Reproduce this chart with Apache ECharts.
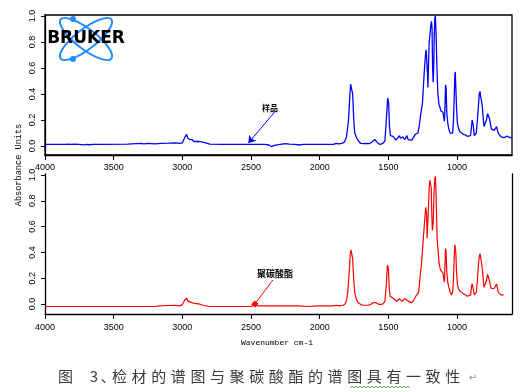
<!DOCTYPE html>
<html><head><meta charset="utf-8">
<script src="https://cdn.jsdelivr.net/npm/echarts@6/dist/echarts.min.js"></script>
<style>html,body{margin:0;padding:0;background:#fff}#c{width:525px;height:392px}</style>
</head><body><div id="c"></div>
<script>
// ---- data ----
const xTicks = [4000, 3500, 3000, 2500, 2000, 1500, 1000];
const yTicks = [0, 0.2, 0.4, 0.6, 0.8, 1.0];

// sample (blue) spectrum
const blueWn = [4000,3900,3850,3830,3810,3790,3750,3720,3700,3680,3650,3600,3400,3390,3300,3280,3250,3200,3150,3100,3050,3020,3000,2985,2970,2960,2945,2930,2915,2880,2850,2800,2700,2600,2520,2450,2400,2370,2350,2330,2300,2250,2220,2180,2150,2120,2000,1900,1880,1860,1840,1820,1805,1790,1780,1775,1768,1760,1752,1745,1730,1715,1700,1680,1660,1640,1620,1600,1590,1575,1560,1540,1525,1515,1505,1498,1492,1485,1475,1465,1455,1445,1435,1420,1412,1405,1395,1388,1380,1372,1365,1357,1345,1330,1315,1305,1295,1285,1276,1265,1252,1240,1230,1225,1220,1215,1212,1208,1203,1198,1192,1186,1182,1178,1174,1170,1166,1162,1158,1154,1150,1145,1140,1132,1125,1118,1110,1103,1097,1092,1088,1084,1080,1075,1068,1060,1050,1040,1032,1026,1020,1016,1013,1009,1004,998,990,980,970,955,940,925,912,902,895,890,884,880,875,868,860,852,845,838,833,828,822,816,810,804,798,792,786,778,772,764,757,750,740,730,720,712,706,700,692,680,668,656,645,636,628,615,600];
const blueAbs = [0.013,0.013,0.012,0.015,0.012,0.015,0.013,0.009,0.012,0.01,0.013,0.013,0.015,0.02,0.02,0.017,0.02,0.016,0.02,0.022,0.025,0.02,0.025,0.06,0.09,0.06,0.05,0.05,0.035,0.035,0.03,0.014,0.013,0.013,0.013,0.013,0.013,0.008,-0.005,0.005,0.01,0.018,0.015,0.012,0.008,0.013,0.013,0.013,0.02,0.017,0.02,0.03,0.07,0.2,0.4,0.477,0.477,0.4,0.2,0.1,0.06,0.035,0.02,0.018,0.02,0.018,0.03,0.05,0.045,0.02,0.012,0.02,0.04,0.2,0.37,0.33,0.15,0.08,0.07,0.075,0.06,0.045,0.05,0.08,0.06,0.045,0.07,0.08,0.05,0.06,0.08,0.05,0.04,0.045,0.07,0.09,0.08,0.1,0.15,0.24,0.33,0.55,0.7,0.74,0.75,0.55,0.45,0.62,0.8,0.85,0.92,0.96,0.9,0.6,0.49,0.6,0.85,0.98,1.0,0.9,0.75,0.55,0.41,0.32,0.3,0.27,0.28,0.26,0.22,0.19,0.3,0.47,0.45,0.26,0.18,0.13,0.1,0.085,0.1,0.2,0.4,0.55,0.57,0.45,0.3,0.18,0.14,0.11,0.1,0.09,0.085,0.075,0.065,0.08,0.15,0.2,0.17,0.14,0.08,0.07,0.1,0.2,0.3,0.4,0.42,0.38,0.35,0.3,0.22,0.15,0.135,0.14,0.2,0.25,0.24,0.21,0.17,0.13,0.12,0.12,0.13,0.15,0.12,0.1,0.085,0.07,0.065,0.065,0.07,0.077,0.07,0.065,0.065];

// polycarbonate reference (red) spectrum
const redWn = [4000,3200,3170,3100,3050,3020,3000,2985,2970,2958,2945,2930,2915,2880,2850,2800,2600,2500,2480,2450,2350,2300,2200,2150,2100,2000,1900,1880,1860,1830,1815,1805,1795,1785,1778,1772,1766,1760,1753,1745,1735,1720,1700,1680,1650,1630,1610,1600,1590,1575,1560,1540,1525,1515,1507,1500,1494,1487,1475,1460,1450,1440,1430,1420,1410,1400,1392,1385,1378,1370,1363,1355,1345,1330,1315,1300,1290,1280,1270,1258,1245,1235,1228,1222,1218,1214,1208,1203,1198,1193,1188,1184,1180,1174,1168,1162,1158,1154,1150,1145,1140,1132,1125,1118,1110,1103,1097,1092,1088,1084,1080,1075,1068,1060,1050,1040,1032,1026,1020,1016,1013,1009,1004,998,990,980,970,955,940,925,912,902,895,890,884,880,875,868,860,852,845,838,833,828,822,816,810,804,798,792,786,778,772,764,757,750,740,730,720,712,706,700,692,680,668,660];
const redAbs = [-0.02,-0.02,-0.015,-0.012,-0.01,-0.015,-0.005,0.025,0.045,0.02,0.018,0.01,0.005,0.0,-0.01,-0.02,-0.02,-0.02,-0.01,-0.015,-0.015,-0.015,-0.015,-0.015,-0.02,-0.015,-0.015,-0.01,-0.015,-0.01,0.0,0.03,0.1,0.25,0.38,0.42,0.43,0.35,0.2,0.09,0.04,0.01,-0.005,-0.01,-0.01,-0.005,0.01,0.018,0.01,0.0,-0.005,0.0,0.02,0.15,0.3,0.28,0.12,0.06,0.055,0.04,0.03,0.02,0.025,0.04,0.03,0.02,0.035,0.04,0.025,0.035,0.04,0.02,0.01,0.01,0.03,0.06,0.05,0.09,0.2,0.32,0.52,0.66,0.75,0.7,0.51,0.52,0.75,0.9,0.96,0.93,0.9,0.7,0.57,0.62,0.85,0.97,0.99,0.9,0.72,0.5,0.44,0.33,0.28,0.26,0.27,0.24,0.2,0.17,0.3,0.43,0.41,0.25,0.17,0.13,0.09,0.07,0.09,0.2,0.38,0.46,0.465,0.4,0.25,0.16,0.12,0.1,0.09,0.08,0.07,0.06,0.05,0.07,0.13,0.155,0.13,0.1,0.07,0.065,0.09,0.18,0.3,0.37,0.39,0.36,0.32,0.27,0.2,0.13,0.12,0.13,0.18,0.23,0.22,0.18,0.14,0.12,0.115,0.12,0.13,0.155,0.12,0.09,0.08,0.07,0.07,0.07];

const sampleLabel = '样品';
const refLabel = '聚碳酸酯';
const yName = 'Absorbance Units';
const xName = 'Wavenumber cm-1';
const caption = '图 3、检材的谱图与聚碳酸酯的谱图具有一致性';

// ---- chart ----
const chart = echarts.init(document.getElementById('c'), null, {renderer: 'canvas'});
const zip = (a, b) => a.map((v, i) => [v, b[i]]);

function xAx(gi, margin) {
  return {
    type: 'value', gridIndex: gi, min: 600, max: 4000, inverse: true, position: 'bottom',
    axisLine: {show: true, onZero: false, lineStyle: {color: '#000', width: 1.3}},
    axisTick: {show: true, length: 5, customValues: xTicks, lineStyle: {color: '#000'}},
    axisLabel: {customValues: xTicks, margin: margin, fontSize: 9, color: '#000',
      fontFamily: 'Liberation Sans', formatter: v => String(Math.round(v))},
    splitLine: {show: false}
  };
}
function yAx(gi, min, max) {
  return {
    type: 'value', gridIndex: gi, min: min, max: max, position: 'left',
    axisLine: {show: true, onZero: false, lineStyle: {color: '#000', width: 1.3}},
    axisTick: {show: true, length: 4, customValues: yTicks, lineStyle: {color: '#000'}},
    axisLabel: {customValues: yTicks, rotate: 90, margin: 8, fontSize: 9, color: '#000',
      fontFamily: 'Liberation Sans', formatter: v => v.toFixed(1)},
    splitLine: {show: false}
  };
}

const graphics = [];
// BRUKER logo
[0.656, -0.656].forEach(r => graphics.push({
  type: 'ellipse', x: 86, y: 39, rotation: r, shape: {cx: 0, cy: 0, rx: 32, ry: 10},
  style: {fill: null, stroke: '#1e8cff', lineWidth: 2}, z: 10
}));
[[73, 19], [73, 59]].forEach(p => graphics.push({
  type: 'circle', shape: {cx: p[0], cy: p[1], r: 3}, style: {fill: '#1e8cff'}, z: 10
}));
graphics.push({type: 'text', x: 86, y: 39, z: 11,
  style: {text: 'BRUKER', font: 'bold 17px "DejaVu Sans"', fill: '#000', align: 'center', verticalAlign: 'middle'}});
// axis names
graphics.push({type: 'text', x: 19, y: 165, rotation: Math.PI / 2,
  style: {text: yName, font: '8.6px "Liberation Mono"', fill: '#000', align: 'center', verticalAlign: 'middle'}});
graphics.push({type: 'text', x: 277, y: 343,
  style: {text: xName, font: '8px "Liberation Mono"', fill: '#000', align: 'center', verticalAlign: 'middle'}});
// annotation labels
graphics.push({type: 'text', x: 270, y: 108,
  style: {text: sampleLabel, font: 'bold 8px "Noto Sans CJK SC"', fill: '#000', align: 'center', verticalAlign: 'middle'}});
graphics.push({type: 'text', x: 275, y: 273.5,
  style: {text: refLabel, font: 'bold 9px "Noto Sans CJK SC"', fill: '#000', align: 'center', verticalAlign: 'middle'}});
// caption, one glyph per cell
const chars = Array.from(caption);
const pitch = 19.6;
const headX = [65.5, 80, 94, 108];
chars.forEach((ch, i) => {
  const x = i < 4 ? headX[i] : 119.5 + (i - 4) * pitch;
  if (ch === ' ') return;
  graphics.push({type: 'text', x: x, y: 376,
    style: {text: ch, font: '15px "Noto Sans CJK SC"', fill: '#3a3a3a', align: 'center', verticalAlign: 'middle'}});
});
graphics.push({type: 'text', x: 473, y: 378,
  style: {text: '↵', font: '10px "DejaVu Sans"', fill: '#8090b0', align: 'center', verticalAlign: 'middle'}});
// spell-check wavy underline
const wave = [];
for (let x = 350; x <= 410; x += 2) wave.push([x, (x / 2) % 2 === 0 ? 386 : 388]);
graphics.push({type: 'polyline', shape: {points: wave}, style: {stroke: '#5cb85c', lineWidth: 1, fill: null}});

chart.setOption({
  animation: false,
  backgroundColor: '#fff',
  grid: [
    {left: 45, right: 13, top: 15, height: 140, show: true, borderColor: '#000', borderWidth: 1.3, containLabel: false, outerBoundsMode: 'none'},
    {left: 45, right: 13, top: 174, height: 140, containLabel: false, outerBoundsMode: 'none'}
  ],
  xAxis: [xAx(0, 8), xAx(1, 9)],
  yAxis: [
    yAx(0, -0.069, 1.008),
    yAx(1, -0.078, 1.008),
    {type: 'value', gridIndex: 1, min: -0.078, max: 1.008, position: 'right',
      axisLine: {show: true, onZero: false, lineStyle: {color: '#000', width: 1.3}},
      axisTick: {show: false}, axisLabel: {show: false}, splitLine: {show: false}}
  ],
  series: [
    {type: 'line', xAxisIndex: 0, yAxisIndex: 0, data: zip(blueWn, blueAbs), showSymbol: false,
      lineStyle: {color: '#0000ff', width: 1.3}, itemStyle: {color: '#0000ff'},
      markLine: {silent: true, animation: false, label: {show: false},
        lineStyle: {color: '#0000ff', width: 1, type: 'solid'}, symbolSize: 7,
        data: [[{coord: [2326, 0.264], symbol: 'none'}, {coord: [2520, 0.023], symbol: 'arrow'}]]}},
    {type: 'line', xAxisIndex: 1, yAxisIndex: 1, data: zip(redWn, redAbs), showSymbol: false,
      lineStyle: {color: '#ff0000', width: 1.2}, itemStyle: {color: '#ff0000'},
      markLine: {silent: true, animation: false, label: {show: false},
        lineStyle: {color: '#ff0000', width: 1, type: 'solid'}, symbolSize: 5,
        data: [[{coord: [2341, 0.186], symbol: 'none'}, {coord: [2472, 0.0], symbol: 'rect'}]]}}
  ],
  graphic: graphics
});
</script></body></html>
